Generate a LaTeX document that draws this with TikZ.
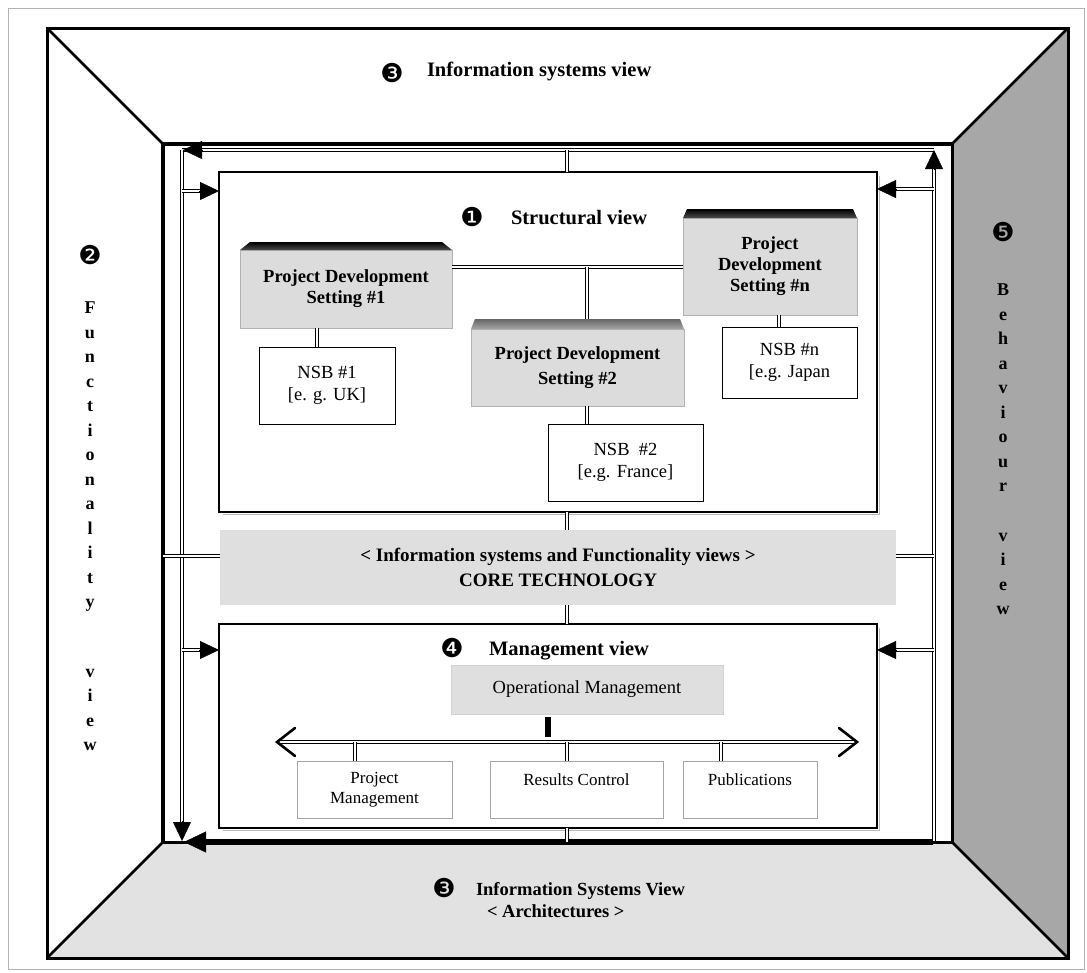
\documentclass[tikz,border=0pt]{standalone}
\usepackage{fontspec}
\setmainfont{Liberation Serif}
\newfontfamily\dingfont{DejaVu Sans}
\usetikzlibrary{arrows.meta,calc}
\definecolor{wallgray}{HTML}{A7A7A7}
\definecolor{floorgray}{HTML}{E2E2E2}
\definecolor{facegray}{HTML}{DCDCDC}
\definecolor{bandgray}{HTML}{DFDFDF}
\newcommand\fsize[2]{\fontsize{#1}{#2}\selectfont}
% double-line connector ending in a separately drawn solid tip
\newcommand\arrowconn[4]{%
  \draw[dbl, shorten >=9pt] #3 -- #4;
  \draw[#1] ($#4!#2!#3$) -- #4;}
% dark bevelled top strip of a raised box
\newcommand\bevelcap[5]{%
  \shade[top color=#4, bottom color=#5] (#1.north west) -- ($(#1.north west)+(#2,-#3)$)
    -- ($(#1.north east)+(-#2,-#3)$) -- (#1.north east) -- cycle;}
\begin{document}
\begin{tikzpicture}[x=1pt,y=-1pt,
  every node/.style={inner sep=0pt, outer sep=0pt},
  dbl/.style={draw=black, double=white, line width=0.8pt, double distance=1.8pt},
  tipA/.style={-{Triangle[length=19pt,width=18pt]}},
  tipB/.style={-{Triangle[length=22pt,width=21pt]}},
  digit/.style={font=\dingfont\fsize{26}{28}},
  heading/.style={font=\bfseries\fsize{20.5}{24}},
  vletters/.style={font=\bfseries\fsize{18}{24.5}, align=center},
  setting/.style={draw=gray!60, line width=0.6pt, fill=facegray, align=center, font=\bfseries\fsize{18.5}{21}},
  nsb/.style={draw=black, line width=1pt, fill=white, align=center, font=\fsize{18.5}{22}},
  panel/.style={draw=black, line width=1.4pt, fill=white},
  band/.style={fill=bandgray, align=center},
  unit/.style={draw=gray!70, line width=0.7pt, fill=white, align=center, font=\fsize{17}{20}},
]
\useasboundingbox (0,0) rectangle (1087,972);
\draw[gray!60, line width=1pt] (8,8) rectangle (1084,969);

% room corners
\coordinate (OTL) at (47,28);   \coordinate (OTR) at (1068,28);
\coordinate (OBR) at (1068,958); \coordinate (OBL) at (47,958);
\coordinate (ITL) at (163,144);  \coordinate (ITR) at (952,144);
\coordinate (IBR) at (952,842);  \coordinate (IBL) at (163,842);

% side wall and floor
\fill[wallgray] (ITR) -- (OTR) -- (OBR) -- (IBR) -- cycle;
\fill[floorgray] (IBL) -- (IBR) -- (OBR) -- (OBL) -- cycle;

% room outline
\draw[line width=3pt] (OTL) rectangle (OBR);
\draw[line width=2.5pt] (OTL) -- (ITL) (OTR) -- (ITR) (OBL) -- (IBL) (OBR) -- (IBR);
\draw[line width=3pt] (ITL) rectangle (IBR);
\draw[line width=4pt, line cap=rect] (IBL) -- (ITL) -- (ITR);

% view labels on the walls
\node[digit] (d3top) at (392,73) {❸};
\node[heading, anchor=base west] (istop) at (427,76) {Information systems view};
\node[digit] (d2) at (90,255) {❷};
\node[vletters, anchor=north] (func) at (90,302) {F\\u\\n\\c\\t\\i\\o\\n\\a\\l\\i\\t\\y\\[45pt]v\\i\\e\\w};
\node[digit] (d5) at (1003,232) {❺};
\node[vletters, anchor=north] (behav) at (1003,284) {B\\e\\h\\a\\v\\i\\o\\u\\r\\[25pt]v\\i\\e\\w};
\node[digit] (d3bot) at (444,888) {❸};
\node[font=\bfseries\fsize{18.5}{22}, align=left, anchor=north west] (isbot) at (476,882)
  {Information Systems View\\\hspace*{11pt}< Architectures >};

% main panels
\node[panel, minimum width=658pt, minimum height=340pt] (sv) at (548,342) {};
\node[panel, minimum width=658pt, minimum height=204pt] (mv) at (548,726) {};
\node[band, minimum width=676pt, minimum height=75pt, font=\bfseries\fsize{19}{25}] (band) at (558,567.5)
  {< Information systems and Functionality views >\\CORE TECHNOLOGY};
\draw[gray!55, line width=1.5pt] ($(sv.north east)+(2.5,4)$) -- ($(sv.south east)+(2.5,2.5)$) -- ($(sv.south west)+(4,2.5)$);
\draw[gray!55, line width=1.5pt] ($(mv.north east)+(2.5,4)$) -- ($(mv.south east)+(2.5,2.5)$) -- ($(mv.south west)+(4,2.5)$);

% structural view
\node[digit] (d1) at (472,217) {❶};
\node[heading, anchor=base west] (svt) at (511,224) {Structural view};
\node[setting, minimum width=212pt, minimum height=78pt] (p1) at (346,289) {Project Development\\Setting \#1};
\node[setting, minimum width=213pt, minimum height=77pt, font=\bfseries\fsize{18.5}{25}] (p2) at (577.5,367.5) {Project Development\\Setting \#2};
\node[setting, minimum width=174pt, minimum height=97pt] (pn) at (770,266.5) {Project\\Development\\Setting \#n};
\node[nsb, minimum width=136pt, minimum height=77pt] (n1) at (327,385.5) {NSB \#1\\{}[e. g. UK]};
\node[nsb, minimum width=155pt, minimum height=77pt] (n2) at (625.5,462.5) {NSB\ \ \#2\\{}[e.g. France]};
\node[nsb, minimum width=135pt, minimum height=71pt] (nn) at (789.5,362.5) {NSB \#n\\{}[e.g. Japan};

% management view
\node[digit] (d4) at (452,648) {❹};
\node[heading, anchor=base west] (mvt) at (489,655) {Management view};
\node[fill=bandgray, draw=gray!35, minimum width=272pt, minimum height=49pt, font=\fsize{18.5}{22}] (om) at (587,689.5) {Operational Management};
\node[unit, minimum width=155pt, minimum height=57pt] (pm) at (374.5,789.5) {Project\\Management};
\node[unit, minimum width=173pt, minimum height=57pt] (rc) at (576.5,789.5) {Results Control\\\mbox{}};
\node[unit, minimum width=134pt, minimum height=57pt] (pb) at (750,789.5) {Publications\\\mbox{}};

% circulation loop around the back wall
\coordinate (loopTR) at (934,150);
\coordinate (loopTL) at (182,150);
\coordinate (loopBL) at (182,841);
\coordinate (loopBR) at (934,841);
\coordinate (botR) at (933,842);
\coordinate (botTip) at (184,842);
\draw[dbl] (loopTR) -- (loopTL);
\draw[tipA] ($(loopTL)+(21,0)$) -- ($(loopTL)+(1,0)$);
\arrowconn{tipA}{20pt}{(loopTL)}{(loopBL)}
\arrowconn{tipA}{20pt}{(loopBR)}{(loopTR)}
\draw[line width=6.5pt] (botR) -- ($(botTip)+(12,0)$);
\draw[tipB] ($(botTip)+(23,0)$) -- (botTip);

% feeds into the panels
\coordinate (inSL) at (182,191);
\coordinate (inSR) at (934,189);
\coordinate (inML) at (182,650);
\coordinate (inMR) at (934,650);
\arrowconn{tipA}{20pt}{(inSL)}{(inSL -| sv.west)}
\arrowconn{tipA}{20pt}{(inSR)}{(inSR -| sv.east)}
\arrowconn{tipA}{20pt}{(inML)}{(inML -| mv.west)}
\arrowconn{tipA}{20pt}{(inMR)}{(inMR -| mv.east)}

% core technology links
\coordinate (cbL) at (163,556);
\coordinate (cbR) at (934,556);
\draw[dbl] (cbL) -- (cbL -| band.west);
\draw[dbl] (cbR -| band.east) -- (cbR);

% central spine
\coordinate (spine) at (567,150);
\draw[dbl] (spine) -- (spine |- sv.north);
\draw[dbl] (spine |- sv.south) -- (spine |- band.north);
\draw[dbl] (spine |- band.south) -- (spine |- mv.north);
\draw[dbl] (spine |- mv.south) -- (spine |- botR);

% structural links
\coordinate (hub) at (587,267);
\coordinate (t1) at (317,0);
\coordinate (t2) at (587,0);
\coordinate (tn) at (779,0);
\draw[dbl] (hub -| p1.east) -- (hub -| pn.west);
\draw[dbl] (hub) -- (hub |- p2.north);
\draw[dbl] (t1 |- p1.south) -- (t1 |- n1.north);
\draw[dbl] (t2 |- p2.south) -- (t2 |- n2.north);
\draw[dbl] (tn |- pn.south) -- (tn |- nn.north);

% bevels of the raised setting boxes
\bevelcap{p1}{10}{8}{black}{black!70}
\bevelcap{p2}{4}{10}{black!60}{black!35}
\bevelcap{pn}{4}{9}{black}{black!70}

% management bus
\coordinate (busL) at (277,742);
\coordinate (busR) at (857,742);
\coordinate (omTap) at (548,737);
\coordinate (tapPM) at (355,742);
\coordinate (tapRC) at (567,742);
\coordinate (tapPB) at (721,742);
\draw[line width=5.5pt] ($(omTap |- om.south)+(0,3)$) -- (omTap);
\draw[dbl] (busL) -- (busR);
\draw[line width=2.6pt, line cap=round] ($(busL)+(18,-14)$) -- (busL) -- ($(busL)+(18,14)$);
\draw[line width=2.6pt, line cap=round] ($(busR)+(-18,-14)$) -- (busR) -- ($(busR)+(-18,14)$);
\draw[dbl] (tapPM) -- (tapPM |- pm.north);
\draw[dbl] (tapRC) -- (tapRC |- rc.north);
\draw[dbl] (tapPB) -- (tapPB |- pb.north);
\end{tikzpicture}
\end{document}
